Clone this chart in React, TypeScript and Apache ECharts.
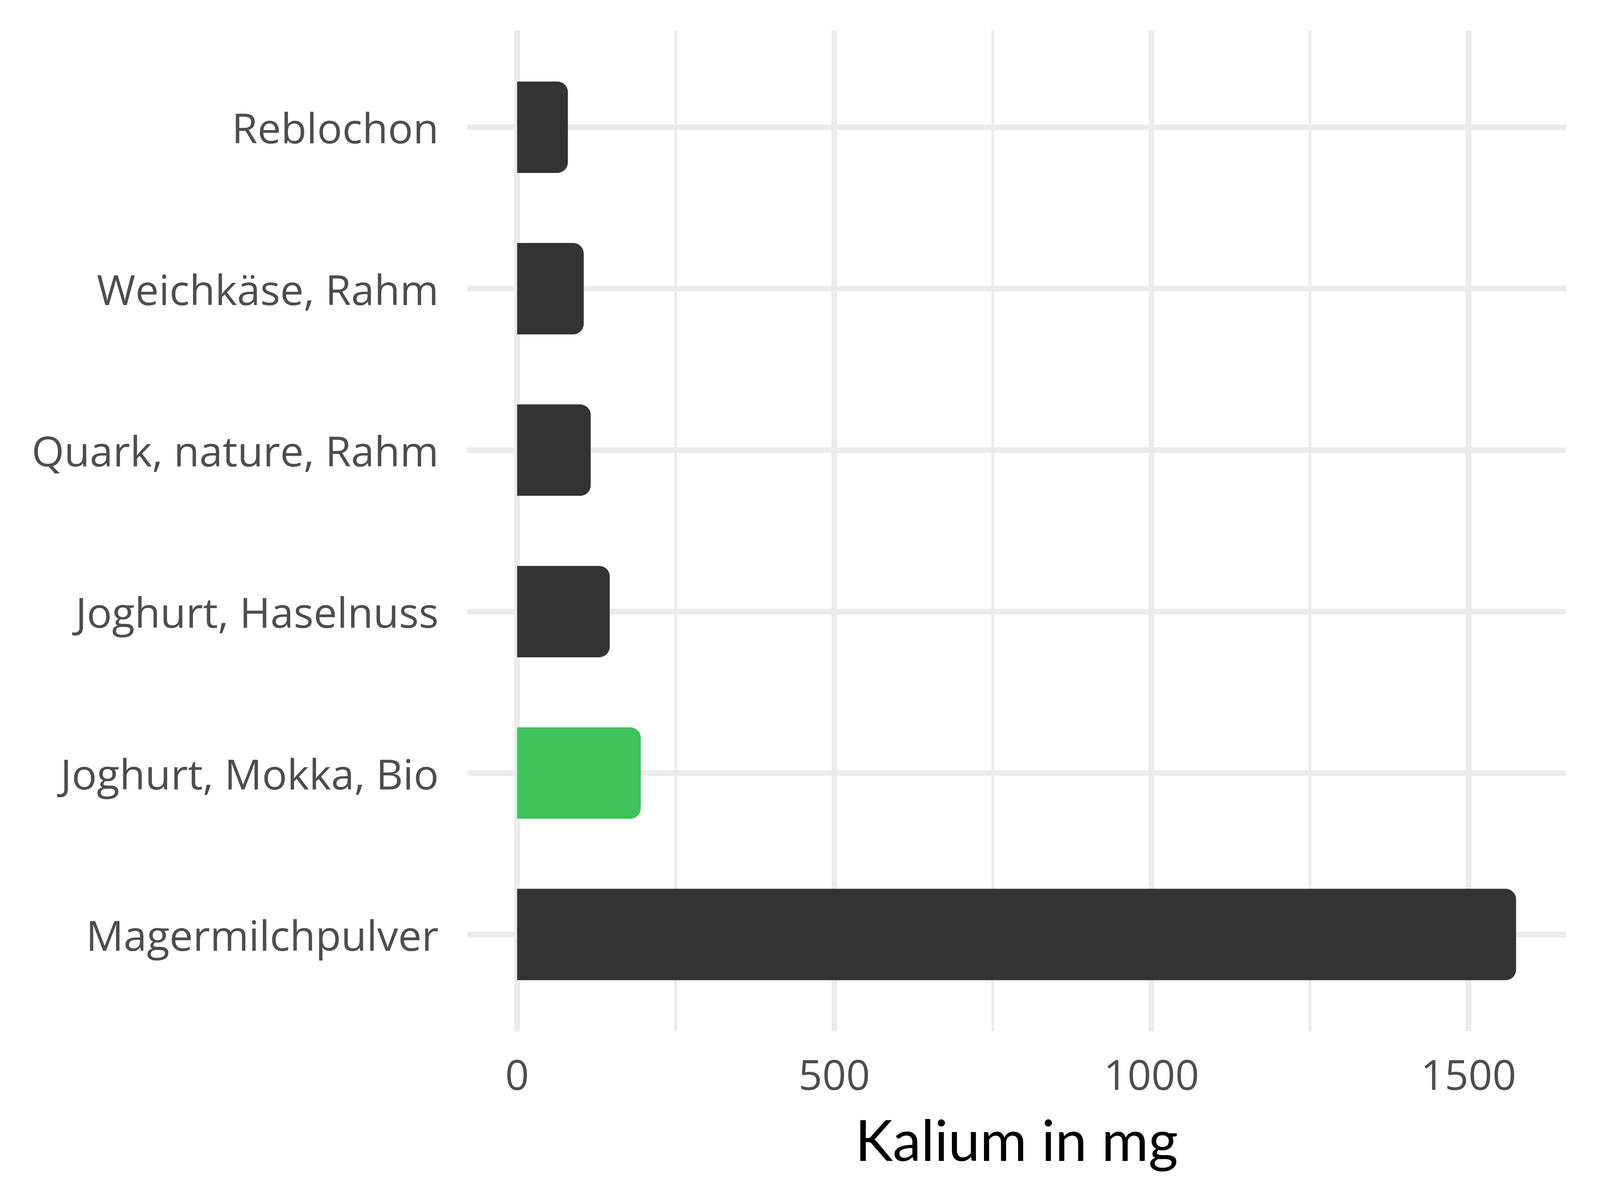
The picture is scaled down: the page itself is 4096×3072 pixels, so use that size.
import React, { useEffect, useRef } from "react";
import * as echarts from "echarts";

const categories = [
  "Reblochon",
  "Weichkäse, Rahm",
  "Quark, nature, Rahm",
  "Joghurt, Haselnuss",
  "Joghurt, Mokka, Bio",
  "Magermilchpulver",
];
const values = [80, 105, 116, 146, 195, 1575];
const highlighted = [false, false, false, false, true, false];
const majorTicks = [0, 500, 1000, 1500];
const minorTicks = [250, 750, 1250];
const axisTitle = "Kalium in mg";
const xMin = -78.75;
const xMax = 1653.75;

const LABEL_FONT = "Open Sans";
const TITLE_FONT = "Lato";
const GRID_COLOR = "#EBEBEB";

export default function App() {
  const ref = useRef<HTMLDivElement>(null);
  useEffect(() => {
    if (!ref.current) return;
    const chart = echarts.init(ref.current, null, { renderer: "svg" });
    const vLines = [
      ...majorTicks.map((v) => [v, 1]),
      ...minorTicks.map((v) => [v, 0]),
    ];
    const hLines = categories.map((c) => [0, c]);
    chart.setOption({
      animation: false,
      backgroundColor: "#FFFFFF",
      grid: { left: 1196, top: 119, width: 2813, height: 2480, containLabel: false },
      xAxis: {
        type: "value",
        min: xMin,
        max: xMax,
        splitLine: { show: false },
        axisLine: { show: false },
        axisTick: { show: false },
        axisLabel: {
          customValues: majorTicks,
          formatter: (v: number) => String(v),
          fontSize: 107,
          color: "#4D4D4D",
          fontFamily: LABEL_FONT,
          margin: 96,
        },
        name: axisTitle,
        nameLocation: "middle",
        nameGap: 243,
        nameTextStyle: { fontSize: 146, color: "#000000", fontFamily: TITLE_FONT },
      },
      yAxis: {
        type: "category",
        data: categories,
        inverse: true,
        axisLine: { show: false },
        axisTick: { show: false },
        splitLine: { show: false },
        axisLabel: {
          fontSize: 107,
          color: "#4D4D4D",
          fontFamily: LABEL_FONT,
          margin: 73,
        },
      },
      series: [
        {
          type: "custom",
          silent: true,
          z: 0,
          data: vLines,
          encode: { x: 0 },
          renderItem: (params: any, api: any) => {
            const x = api.coord([api.value(0), 0])[0];
            const cs = params.coordSys;
            const band = api.size([0, 1])[1];
            const ext = band * 0.1;
            return {
              type: "line",
              shape: { x1: x, y1: cs.y - ext, x2: x, y2: cs.y + cs.height + ext },
              style: { stroke: GRID_COLOR, lineWidth: api.value(1) ? 14.5 : 7.2 },
            };
          },
        },
        {
          type: "custom",
          silent: true,
          z: 0,
          data: hLines,
          encode: { x: 0, y: 1 },
          renderItem: (params: any, api: any) => {
            const y = api.coord([0, api.value(1)])[1];
            const cs = params.coordSys;
            return {
              type: "line",
              shape: { x1: cs.x, y1: y, x2: cs.x + cs.width, y2: y },
              style: { stroke: GRID_COLOR, lineWidth: 14.5 },
            };
          },
        },
        {
          type: "bar",
          silent: true,
          z: 2,
          barWidth: 234,
          data: values,
          itemStyle: {
            color: "#FFFFFF",
            borderColor: "#FFFFFF",
            borderWidth: 30,
            borderRadius: [0, 27, 27, 0],
          },
        },
        {
          type: "bar",
          silent: true,
          z: 3,
          barWidth: 234,
          barGap: "-100%",
          data: values.map((v, i) => ({
            value: v,
            itemStyle: { color: highlighted[i] ? "#3EC35A" : "#333333" },
          })),
          itemStyle: { borderRadius: [0, 27, 27, 0] },
        },
      ],
    });
    return () => chart.dispose();
  }, []);
  return (
    <div
      ref={ref}
      style={{ position: "absolute", left: 0, top: 0, width: 4096, height: 3072 }}
    />
  );
}
